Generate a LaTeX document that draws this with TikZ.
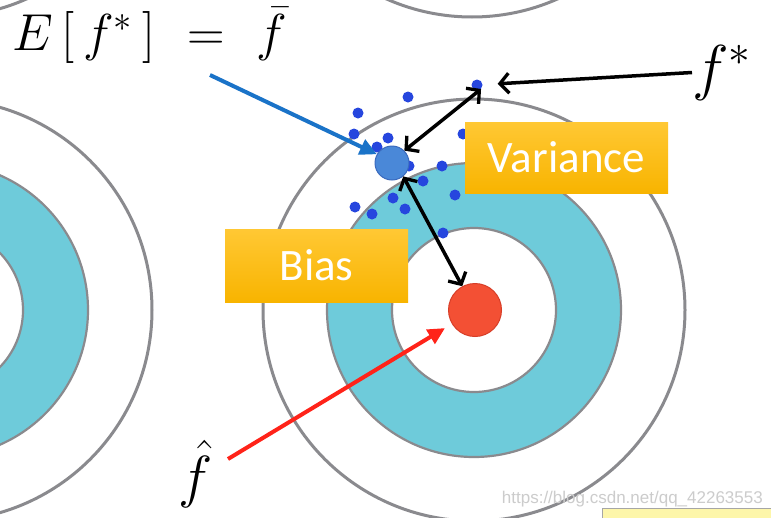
\RequirePackage{fix-cm}
\documentclass[tikz,border=0pt]{standalone}
\usepackage{fontspec}
\newfontfamily\calib{Carlito}
\newfontfamily\wmfont{Liberation Sans}
\usetikzlibrary{arrows.meta}
\definecolor{ringgray}{RGB}{138,138,142}
\definecolor{cyanring}{RGB}{110,203,218}
\definecolor{boxtop}{RGB}{255,200,52}
\definecolor{boxbot}{RGB}{248,180,0}
\definecolor{smalldot}{RGB}{38,70,222}
\definecolor{meanblue}{RGB}{74,136,216}
\definecolor{meanedge}{RGB}{58,106,190}
\definecolor{truered}{RGB}{243,80,52}
\definecolor{trueedge}{RGB}{215,62,40}
\definecolor{arrowblue}{RGB}{26,115,200}
\definecolor{arrowred}{RGB}{255,35,25}
\definecolor{notebox}{RGB}{253,246,170}
\tikzset{
  outerring/.style={draw=ringgray, line width=3pt},
  innerring/.style={draw=ringgray, line width=2.2pt, fill=cyanring, even odd rule},
  target/.pic={
    \draw[outerring] (0,0) circle[radius=211pt];
    \draw[innerring] (0,0) circle[radius=147pt] (0,0) circle[radius=82pt];
  },
  sdot/.style={circle, fill=smalldot, inner sep=0, minimum size=11pt},
  labelbox/.style={top color=boxtop, bottom color=boxbot, text=white, inner sep=0,
    font=\calib\fontsize{45}{50}\selectfont},
  barb/.tip={Straight Barb[length=9pt,width=20pt,line width=3.3pt]},
  dblarrow/.style={line width=3.5pt, black, barb-barb},
  onearrow/.style={line width=3.5pt, black, -barb},
  blueptr/.style={line width=4pt, arrowblue, -{Triangle[length=17pt,width=16pt]}},
  redptr/.style={line width=4pt, arrowred, -{Triangle[length=17pt,width=16pt]}},
  mathlabel/.style={anchor=base west, inner sep=0}
}
\begin{document}
\begin{tikzpicture}[x=1pt,y=-1pt]
\useasboundingbox[fill=white] (0,0) rectangle (771,517);
% targets
\pic at (474,310) {target};
\pic at (-59,310) {target};
\pic at (472,-194) {target};
\pic at (-59,-194) {target};
% scattered estimates
\foreach \p [count=\i] in {(408,97),(358,113),(354,134),(388,138),(377,147),(463,134),
  (409,166),(442,166),(423,181),(455,195),(393,198),(405,209),(355,207),(372,214),(443,233)}
  \node[sdot] (d\i) at \p {};
\node[sdot] (topdot) at (477,85) {};
% mean estimate and true value
\node[circle, fill=meanblue, draw=meanedge, line width=1pt, minimum size=34pt, inner sep=0] (bdot) at (392,163) {};
\node[circle, fill=truered, draw=trueedge, line width=1pt, minimum size=53pt, inner sep=0] (rdot) at (475,310) {};
% boxes
\node[labelbox, minimum width=203pt, minimum height=71pt] (variance) at (566.5,157.5) {Variance};
\node[labelbox, minimum width=183pt, minimum height=73pt] (bias) at (316.5,265.5) {Bias};
% labels
\node[mathlabel, font=\fontsize{52}{60}\selectfont] (expect) at (12,50)
  {$E\mkern3mu[\mkern3mu f^{*\mkern5mu}]\mkern6mu=\mkern6mu\bar{f}$};
\node[mathlabel, font=\fontsize{62}{70}\selectfont] (fstar) at (692,88) {$f^*$};
\node[mathlabel, font=\fontsize{58}{64}\selectfont] (fhat) at (178,496) {$\hat{f}$};
% connectors
\coordinate (bstart) at (210,75);
\coordinate (rstart) at (228,459);
\draw[blueptr] (bstart) -- (bdot.150);
\draw[redptr, shorten >=8pt] (rstart) -- (rdot);
\draw[dblarrow] (bdot.north east) -- (topdot.south east);
\draw[dblarrow] (bdot.-50) -- (rdot);
\draw[onearrow, shorten >=15pt] (fstar.west) -- (topdot);
% watermark and corner note
\node[anchor=base east, text=gray!40, font=\wmfont\fontsize{17}{20}\selectfont, inner sep=0] (wm) at (763,503) {https://blog.csdn.net/qq\_42263553};
\draw[draw=gray!70, fill=notebox, line width=1pt] (602,508) rectangle (776,522);
\end{tikzpicture}
\end{document}
